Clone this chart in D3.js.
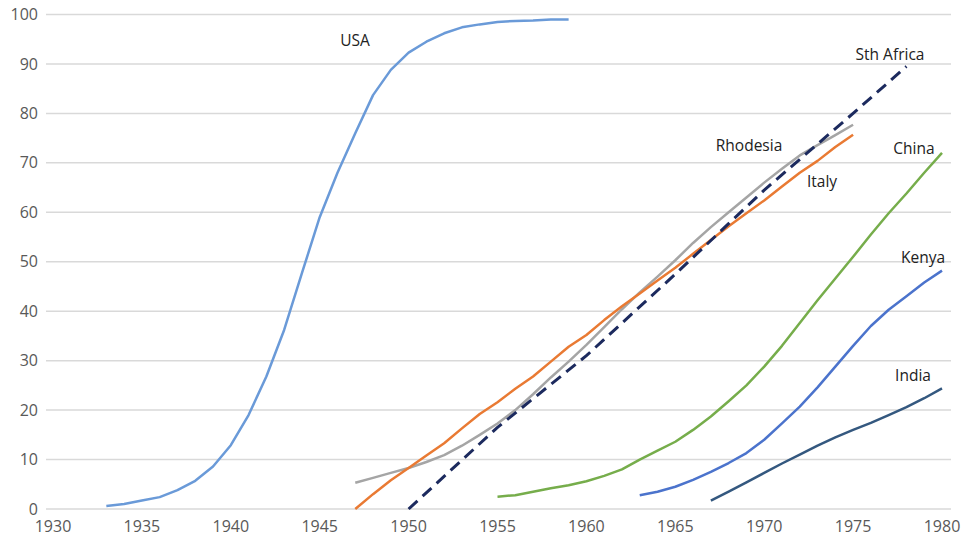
<!DOCTYPE html>
<html>
<head>
<meta charset="utf-8">
<script src="https://cdn.jsdelivr.net/npm/d3@7"></script>
<style>
  body { margin: 0; background: #fff; }
  svg { display: block; font-family: "Open Sans", "Liberation Sans", sans-serif; }
</style>
</head>
<body>
<svg id="chart"></svg>
<script>
var width = 963,
    height = 537;

// Data (year, percent)
var usa = [[1933,0.6],[1934,1],[1935,1.7],[1936,2.4],[1937,3.8],[1938,5.7],[1939,8.6],[1940,12.9],
  [1941,19],[1942,26.8],[1943,36.2],[1944,47.7],[1945,59],[1946,68],[1947,76],[1948,83.7],
  [1949,88.8],[1950,92.3],[1951,94.5],[1952,96.2],[1953,97.4],[1954,98],[1955,98.5],[1956,98.7],
  [1957,98.8],[1958,99],[1959,99]];
var sthAfrica = [[1950,0],[1955,16.5],[1960,31],[1965,47.5],[1970,64.5],[1975,80],[1978,89.5]];
var rhodesia = [[1947,5.3],[1948,6.3],[1949,7.3],[1950,8.3],[1951,9.5],[1952,10.9],[1953,12.8],[1954,15],
  [1955,17.3],[1956,20],[1957,23.2],[1958,26.6],[1959,29.8],[1960,33.2],[1961,36.8],[1962,40.4],
  [1963,43.8],[1964,47],[1965,50.3],[1966,53.8],[1967,57],[1968,60],[1969,63],[1970,66],
  [1971,68.8],[1972,71.5],[1973,73.6],[1974,75.6],[1975,77.7]];
var italy = [[1947,0],[1948,3],[1949,5.8],[1950,8.3],[1951,10.8],[1952,13.3],[1953,16.3],[1954,19.2],
  [1955,21.6],[1956,24.3],[1957,26.8],[1958,29.8],[1959,32.8],[1960,35.2],[1961,38.2],[1962,41],
  [1963,43.6],[1964,46.2],[1965,48.8],[1966,51.6],[1967,54.4],[1968,57.2],[1969,59.8],[1970,62.4],
  [1971,65.2],[1972,68],[1973,70.4],[1974,73.2],[1975,75.7]];
var china = [[1955,2.5],[1956,2.8],[1957,3.5],[1958,4.2],[1959,4.8],[1960,5.6],[1961,6.7],[1962,8],
  [1963,10],[1964,11.8],[1965,13.6],[1966,16],[1967,18.7],[1968,21.8],[1969,25],[1970,28.8],
  [1971,33],[1972,37.6],[1973,42.2],[1974,46.6],[1975,51],[1976,55.5],[1977,59.8],[1978,63.8],
  [1979,68],[1980,72]];
var kenya = [[1963,2.8],[1964,3.5],[1965,4.5],[1966,5.9],[1967,7.5],[1968,9.3],[1969,11.3],[1970,14],
  [1971,17.3],[1972,20.7],[1973,24.6],[1974,28.8],[1975,33],[1976,37],[1977,40.3],[1978,43],
  [1979,45.8],[1980,48.2]];
var india = [[1967,1.7],[1968,3.5],[1969,5.4],[1970,7.3],[1971,9.2],[1972,11],[1973,12.8],[1974,14.5],
  [1975,16],[1976,17.4],[1977,19],[1978,20.6],[1979,22.4],[1980,24.4]];

var xTicks = [1930,1935,1940,1945,1950,1955,1960,1965,1970,1975,1980];
var yTicks = [0,10,20,30,40,50,60,70,80,90,100];

var series = [
  {name: 'USA', data: usa, color: '#6a9ad8', dash: null, label: [355, 41]},
  {name: 'Rhodesia', data: rhodesia, color: '#a5a5a5', dash: null, label: [749, 146]},
  {name: 'Italy', data: italy, color: '#e97a33', dash: null, label: [822, 182]},
  {name: 'China', data: china, color: '#76ad4b', dash: null, label: [914, 149]},
  {name: 'Kenya', data: kenya, color: '#4b73cc', dash: null, label: [923, 258]},
  {name: 'India', data: india, color: '#34587f', dash: null, label: [913, 376]},
  {name: 'Sth Africa', data: sthAfrica, color: '#1c2a5e', dash: '12,7', label: [890, 55]}
];

var x = d3.scaleLinear().domain([1930, 1980]).range([53, 942]);
var y = d3.scaleLinear().domain([0, 100]).range([509, 14.5]);

var svg = d3.select('#chart')
  .attr('width', width)
  .attr('height', height);

// gridlines
svg.append('g')
  .selectAll('line')
  .data(yTicks)
  .join('line')
  .attr('x1', 46)
  .attr('x2', 951)
  .attr('y1', d => y(d))
  .attr('y2', d => y(d))
  .style('stroke', '#d9d9d9')
  .style('stroke-width', 1.5);

// y axis labels
svg.append('g')
  .selectAll('text')
  .data(yTicks)
  .join('text')
  .attr('x', 38)
  .attr('y', d => y(d))
  .attr('dy', '0.35em')
  .attr('text-anchor', 'end')
  .style('font-size', '16px')
  .style('fill', '#595959')
  .text(d => d);

// x axis labels
svg.append('g')
  .selectAll('text')
  .data(xTicks)
  .join('text')
  .attr('x', d => x(d))
  .attr('y', 526)
  .attr('dy', '0.35em')
  .attr('text-anchor', 'middle')
  .style('font-size', '16px')
  .style('fill', '#595959')
  .text(d => d);

var line = d3.line()
  .x(d => x(d[0]))
  .y(d => y(d[1]));

svg.append('g')
  .selectAll('path')
  .data(series)
  .join('path')
  .attr('d', d => line(d.data))
  .style('fill', 'none')
  .style('stroke', d => d.color)
  .style('stroke-width', d => d.dash ? 3 : 2.5)
  .style('stroke-dasharray', d => d.dash)
  .style('stroke-linejoin', 'round');

svg.append('g')
  .selectAll('text')
  .data(series)
  .join('text')
  .attr('x', d => d.label[0])
  .attr('y', d => d.label[1])
  .attr('dy', '0.35em')
  .attr('text-anchor', 'middle')
  .style('font-size', '15.5px')
  .style('fill', '#222')
  .text(d => d.name);
</script>
</body>
</html>
